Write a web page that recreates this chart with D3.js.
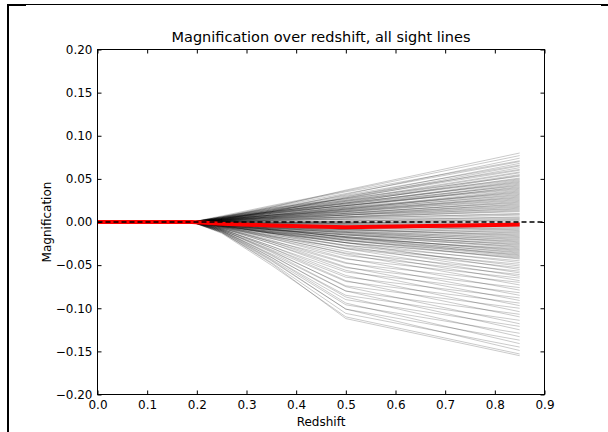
<!DOCTYPE html>
<html>
<head>
<meta charset="utf-8">
<script src="https://cdn.jsdelivr.net/npm/d3@7"></script>
<style>
  html, body { margin: 0; padding: 0; background: #fff; }
  svg { display: block; }
  text { font-family: "DejaVu Sans", sans-serif; fill: #000; }
</style>
</head>
<body>
<script>
// ---- data ----
const chartTitle = "Magnification over redshift, all sight lines";
const xLabel = "Redshift";
const yLabel = "Magnification";
const xTicks = [0.0, 0.1, 0.2, 0.3, 0.4, 0.5, 0.6, 0.7, 0.8, 0.9];
const yTicks = [-0.20, -0.15, -0.10, -0.05, 0.00, 0.05, 0.10, 0.15, 0.20];

// redshift nodes at which each sight line is sampled
const redshiftNodes = [0.0, 0.19, 0.25, 0.35, 0.5, 0.85];
// magnification before the first lens plane (same for every sight line)
const startMag = [0.0, 0.0];
// magnification at z = 0.25, 0.35, 0.5, 0.85 for each sight line
const sightLineMag = [
  [0.005, 0.017, 0.037, 0.080], [0.007, 0.019, 0.036, 0.077], [0.004, 0.014, 0.032, 0.074],
  [0.006, 0.018, 0.035, 0.071], [0.003, 0.013, 0.029, 0.068], [0.005, 0.016, 0.031, 0.066],
  [0.006, 0.015, 0.027, 0.063], [0.004, 0.012, 0.028, 0.060], [0.005, 0.014, 0.026, 0.058],
  [0.003, 0.011, 0.024, 0.055], [0.006, 0.016, 0.027, 0.053], [0.004, 0.012, 0.023, 0.051],
  [0.005, 0.013, 0.024, 0.049], [0.002, 0.009, 0.020, 0.047], [0.004, 0.012, 0.022, 0.046],
  [0.003, 0.010, 0.019, 0.044], [0.005, 0.012, 0.021, 0.042], [0.002, 0.008, 0.017, 0.041],
  [0.004, 0.011, 0.019, 0.039], [0.003, 0.008, 0.016, 0.037], [0.001, 0.006, 0.015, 0.036],
  [0.004, 0.010, 0.017, 0.034], [0.002, 0.007, 0.014, 0.032], [0.003, 0.008, 0.015, 0.031],
  [0.001, 0.005, 0.012, 0.029], [0.002, 0.007, 0.013, 0.027], [0.003, 0.008, 0.012, 0.026],
  [0.001, 0.004, 0.010, 0.024], [0.002, 0.006, 0.011, 0.022], [0.000, 0.003, 0.008, 0.021],
  [0.002, 0.005, 0.009, 0.019], [0.001, 0.004, 0.008, 0.018], [-0.001, 0.002, 0.006, 0.016],
  [0.002, 0.005, 0.008, 0.015], [0.000, 0.002, 0.005, 0.013], [0.001, 0.004, 0.006, 0.012],
  [-0.001, 0.001, 0.004, 0.010], [0.001, 0.003, 0.005, 0.009], [0.000, 0.002, 0.003, 0.008],
  [-0.002, -0.001, 0.001, 0.006], [0.001, 0.002, 0.003, 0.005], [0.000, 0.000, 0.001, 0.004],
  [-0.001, -0.002, -0.001, 0.003], [0.001, 0.001, 0.001, 0.002], [0.000, -0.001, -0.001, 0.001],
  [0.006, 0.017, 0.033, 0.070], [0.003, 0.012, 0.028, 0.065], [0.005, 0.015, 0.030, 0.061],
  [0.004, 0.013, 0.025, 0.057], [0.002, 0.010, 0.022, 0.054], [0.005, 0.014, 0.025, 0.050],
  [0.003, 0.011, 0.021, 0.048], [0.004, 0.012, 0.022, 0.045], [0.002, 0.008, 0.018, 0.043],
  [0.003, 0.010, 0.019, 0.040], [0.004, 0.011, 0.019, 0.038], [0.002, 0.007, 0.015, 0.035],
  [0.003, 0.009, 0.016, 0.033], [0.001, 0.006, 0.013, 0.030], [0.003, 0.008, 0.014, 0.028],
  [0.002, 0.006, 0.012, 0.025], [0.001, 0.005, 0.010, 0.023], [0.002, 0.006, 0.010, 0.020],
  [0.001, 0.004, 0.008, 0.017], [0.000, 0.003, 0.006, 0.014],
  [0.000, 0.000, -0.001, -0.001], [-0.001, -0.001, -0.002, -0.003], [0.001, 0.000, -0.002, -0.004],
  [-0.001, -0.002, -0.003, -0.006], [0.000, -0.003, -0.005, -0.007], [-0.002, -0.004, -0.005, -0.009],
  [-0.001, -0.002, -0.004, -0.010], [-0.002, -0.005, -0.008, -0.012], [0.000, -0.003, -0.006, -0.013],
  [-0.003, -0.006, -0.009, -0.015], [-0.001, -0.004, -0.008, -0.016], [-0.002, -0.006, -0.011, -0.018],
  [-0.003, -0.007, -0.010, -0.019], [-0.001, -0.005, -0.011, -0.021], [-0.004, -0.009, -0.014, -0.022],
  [-0.002, -0.007, -0.012, -0.024], [-0.003, -0.009, -0.015, -0.025], [-0.002, -0.006, -0.013, -0.027],
  [-0.004, -0.010, -0.017, -0.028], [-0.002, -0.008, -0.015, -0.030], [-0.005, -0.012, -0.019, -0.031],
  [-0.003, -0.009, -0.017, -0.033], [-0.004, -0.011, -0.020, -0.035], [-0.002, -0.008, -0.018, -0.036],
  [-0.005, -0.013, -0.022, -0.038], [-0.003, -0.010, -0.021, -0.040], [-0.004, -0.013, -0.024, -0.041],
  [-0.002, -0.009, -0.021, -0.043], [-0.005, -0.015, -0.027, -0.045], [-0.003, -0.011, -0.024, -0.047],
  [-0.006, -0.017, -0.030, -0.049], [-0.004, -0.013, -0.027, -0.051], [-0.005, -0.016, -0.031, -0.053],
  [-0.003, -0.012, -0.024, -0.055], [-0.006, -0.018, -0.036, -0.057], [-0.004, -0.013, -0.028, -0.059],
  [-0.005, -0.019, -0.039, -0.061], [-0.004, -0.014, -0.031, -0.063], [-0.007, -0.022, -0.043, -0.065],
  [-0.005, -0.016, -0.034, -0.068], [-0.006, -0.023, -0.048, -0.070], [-0.005, -0.017, -0.037, -0.073],
  [-0.007, -0.025, -0.053, -0.076], [-0.006, -0.019, -0.042, -0.079], [-0.008, -0.028, -0.058, -0.082],
  [-0.006, -0.021, -0.047, -0.085], [-0.008, -0.030, -0.064, -0.088], [-0.007, -0.023, -0.052, -0.091],
  [-0.009, -0.032, -0.069, -0.094], [-0.007, -0.025, -0.056, -0.097], [-0.009, -0.034, -0.074, -0.100],
  [-0.008, -0.028, -0.062, -0.104], [-0.010, -0.037, -0.080, -0.107], [-0.008, -0.030, -0.068, -0.110],
  [-0.010, -0.039, -0.085, -0.114], [-0.009, -0.033, -0.075, -0.118], [-0.011, -0.041, -0.090, -0.121],
  [-0.009, -0.035, -0.080, -0.125], [-0.011, -0.043, -0.096, -0.129], [-0.010, -0.038, -0.087, -0.133],
  [-0.012, -0.045, -0.101, -0.137], [-0.010, -0.041, -0.094, -0.141], [-0.012, -0.047, -0.106, -0.145],
  [-0.011, -0.044, -0.101, -0.149], [-0.013, -0.050, -0.110, -0.153], [-0.012, -0.048, -0.112, -0.155],
  [-0.001, -0.001, -0.001, -0.002], [0.000, -0.002, -0.003, -0.005], [-0.002, -0.003, -0.005, -0.008],
  [-0.001, -0.004, -0.006, -0.011], [-0.003, -0.006, -0.009, -0.014], [-0.001, -0.005, -0.009, -0.017],
  [-0.004, -0.008, -0.012, -0.020], [-0.002, -0.007, -0.012, -0.023], [-0.004, -0.009, -0.015, -0.026],
  [-0.002, -0.007, -0.014, -0.029], [-0.005, -0.011, -0.018, -0.032], [-0.003, -0.009, -0.017, -0.034],
  [-0.004, -0.012, -0.021, -0.037], [-0.002, -0.008, -0.018, -0.039], [-0.005, -0.013, -0.024, -0.042]
];
// mean magnification (red line)
const meanRedshift = [0.0, 0.19, 0.25, 0.35, 0.5, 0.85];
const meanMag = [0.0, 0.0, -0.002, -0.004, -0.006, -0.003];
// reference line
const zeroLineX = [0.0, 0.9];
const zeroLineY = [0.0, 0.0];

// ---- layout ----
const W = 608, H = 432;
const L = 97.5, R = 544.5, T = 49.5, B = 394.5;

const svg = d3.select("body").append("svg").attr("width", W).attr("height", H);

const x = d3.scaleLinear().domain([0, 0.9]).range([L, R]);
const y = d3.scaleLinear().domain([-0.2, 0.2]).range([B, T]);

// figure frame (as in the reference image)
svg.append("line").attr("x1", 8).attr("x2", 8).attr("y1", 4).attr("y2", H)
  .attr("stroke", "#000").attr("stroke-width", 2);
svg.append("line").attr("x1", 7).attr("x2", W).attr("y1", 4.5).attr("y2", 4.5)
  .attr("stroke", "#000").attr("stroke-width", 1);
svg.append("line").attr("x1", 7).attr("x2", 26).attr("y1", 5).attr("y2", 5)
  .attr("stroke", "#000").attr("stroke-width", 2);
svg.append("line").attr("x1", 601).attr("x2", W).attr("y1", 5).attr("y2", 5)
  .attr("stroke", "#000").attr("stroke-width", 2);

const plot = svg.append("g");
const line = d3.line().x(d => x(d[0])).y(d => y(d[1]));

// sight lines
const lines = sightLineMag.map(v => startMag.concat(v).map((m, i) => [redshiftNodes[i], m]));
plot.append("g").selectAll("path").data(lines).join("path")
  .attr("d", line)
  .attr("fill", "none")
  .attr("stroke", "#000")
  .attr("stroke-opacity", 0.3)
  .attr("stroke-width", 0.7);

// mean line
plot.append("path")
  .attr("d", line(meanRedshift.map((z, i) => [z, meanMag[i]])))
  .attr("fill", "none").attr("stroke", "#ff0000").attr("stroke-width", 4);

// zero dashed line
plot.append("path")
  .attr("d", line(zeroLineX.map((z, i) => [z, zeroLineY[i]])))
  .attr("fill", "none").attr("stroke", "#000").attr("stroke-width", 1.3)
  .attr("stroke-dasharray", "5,3");

// axes
const fmtX = d3.format(".1f");
const fmtY = v => d3.format(".2f")(v).replace("-", "\u2212");

const axB = svg.append("g").attr("transform", `translate(0,${B})`)
  .call(d3.axisBottom(x).tickValues(xTicks).tickFormat(fmtX).tickSize(-4).tickPadding(6));
const axT = svg.append("g").attr("transform", `translate(0,${T})`)
  .call(d3.axisTop(x).tickValues(xTicks).tickFormat("").tickSize(-4));
const axL = svg.append("g").attr("transform", `translate(${L},0)`)
  .call(d3.axisLeft(y).tickValues(yTicks).tickFormat(fmtY).tickSize(-4).tickPadding(5));
const axR = svg.append("g").attr("transform", `translate(${R},0)`)
  .call(d3.axisRight(y).tickValues(yTicks).tickFormat("").tickSize(-4));

[axB, axT, axL, axR].forEach(a => {
  a.select(".domain").remove();
  a.selectAll(".tick line").attr("stroke", "#000");
  a.selectAll("text").attr("font-family", "DejaVu Sans").attr("font-size", 12).attr("fill", "#000");
});

svg.append("rect").attr("x", L).attr("y", T).attr("width", R - L).attr("height", B - T)
  .attr("fill", "none").attr("stroke", "#000").attr("stroke-width", 1);

// title and labels
svg.append("text").attr("x", (L + R) / 2).attr("y", 42).attr("text-anchor", "middle")
  .attr("font-size", 14.5).text(chartTitle);
svg.append("text").attr("x", (L + R) / 2).attr("y", 426).attr("text-anchor", "middle")
  .attr("font-size", 12).text(xLabel);
svg.append("text").attr("transform", `translate(51,${(T + B) / 2}) rotate(-90)`)
  .attr("text-anchor", "middle").attr("font-size", 12).text(yLabel);
</script>
</body>
</html>
